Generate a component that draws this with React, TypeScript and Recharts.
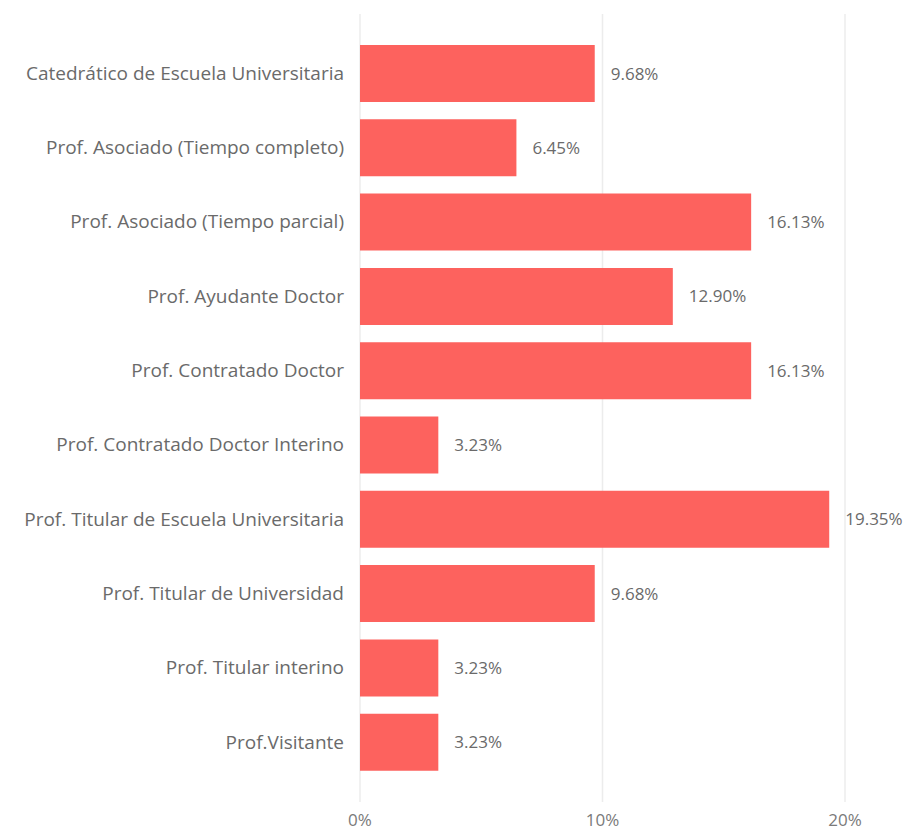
import React from 'react'
import { Bar, BarChart, CartesianGrid, LabelList, XAxis, YAxis } from 'recharts'

const categories = [
  'Catedrático de Escuela Universitaria',
  'Prof. Asociado (Tiempo completo)',
  'Prof. Asociado (Tiempo parcial)',
  'Prof. Ayudante Doctor',
  'Prof. Contratado Doctor',
  'Prof. Contratado Doctor Interino',
  'Prof. Titular de Escuela Universitaria',
  'Prof. Titular de Universidad',
  'Prof. Titular interino',
  'Prof.Visitante',
]

const shares = [9.68, 6.45, 16.13, 12.9, 16.13, 3.23, 19.35, 9.68, 3.23, 3.23]

const xTicks = [0, 10, 20]

const data = categories.map((name, i) => ({ name, share: shares[i] }))

export default function App() {
  return (
    <div style={{ position: 'absolute', left: 0, top: 0, background: '#fff' }}>
      <BarChart
        width={916}
        height={830}
        data={data}
        layout="vertical"
        margin={{ top: 14, right: 71, bottom: 0, left: 0 }}
      >
        {/* only vertical gridlines, like the source */}
        <CartesianGrid horizontal={false} stroke="#ececec" strokeWidth={1.5} />
        <XAxis
          type="number"
          domain={[0, 20]}
          ticks={xTicks}
          height={28}
          tickFormatter={(v) => `${v}%`}
          axisLine={false}
          tickLine={false}
          tick={{ fill: '#7a7a7a', fontSize: 17, fontFamily: 'Open Sans' }}
          tickMargin={6}
        />
        <YAxis
          type="category"
          dataKey="name"
          width={360}
          axisLine={false}
          tickLine={false}
          padding={{ top: 22, bottom: 23 }}
          tick={{ fill: '#6a6a6a', fontSize: 19, fontFamily: 'Open Sans' }}
          tickMargin={10}
        />
        <Bar dataKey="share" fill="#FD625E" barSize={57} isAnimationActive={false}>
          <LabelList
            dataKey="share"
            position="right"
            offset={16}
            formatter={(v: number) => `${v.toFixed(2)}%`}
            style={{ fill: '#6a6a6a', fontSize: 17, fontFamily: 'Open Sans' }}
          />
        </Bar>
      </BarChart>
    </div>
  )
}
